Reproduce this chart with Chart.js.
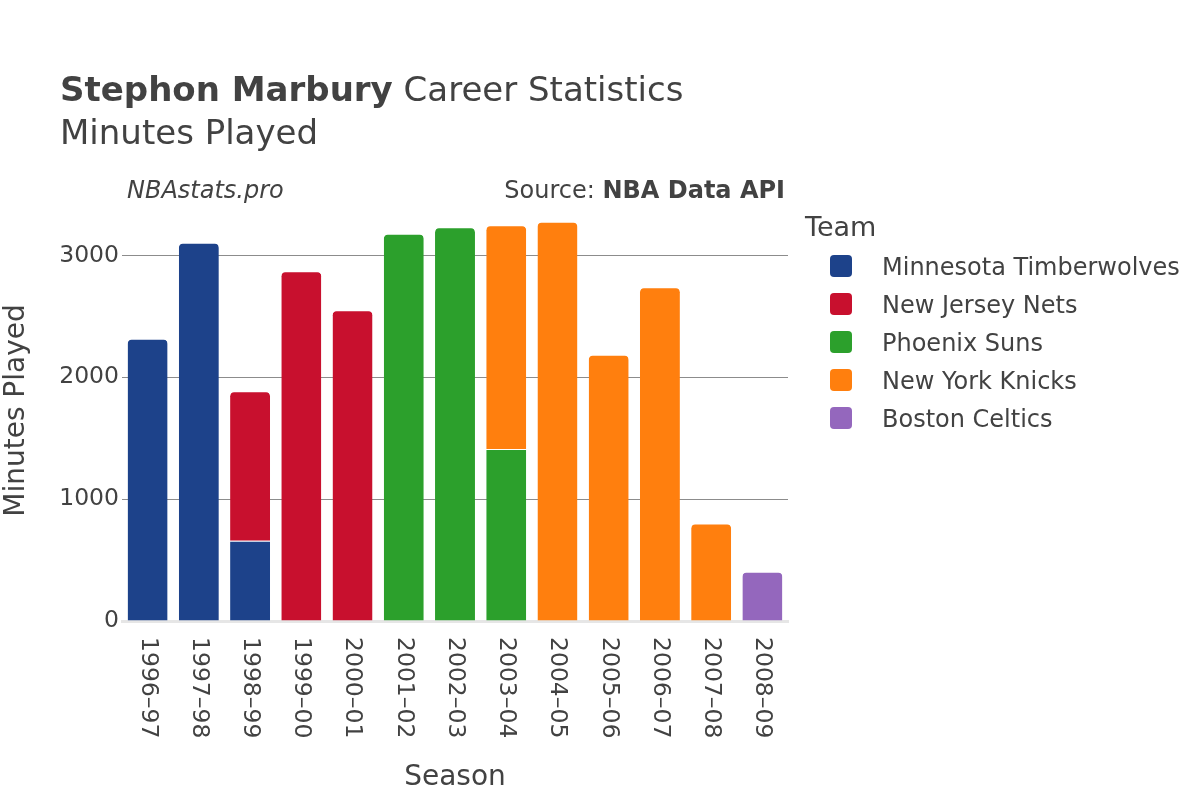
<!DOCTYPE html>
<html>
<head>
<meta charset="utf-8">
<script src="https://cdn.jsdelivr.net/npm/chart.js@4/dist/chart.umd.min.js"></script>
<style>
  html, body { margin: 0; padding: 0; background: #fff; }
  #wrap { width: 1200px; height: 800px; position: relative; }
</style>
</head>
<body>
<div id="wrap"><canvas id="c" width="1200" height="800"></canvas></div>
<script>
// ---- data ----
const seasons = ['1996–97','1997–98','1998–99','1999–00','2000–01','2001–02','2002–03','2003–04','2004–05','2005–06','2006–07','2007–08','2008–09'];
const minnesota = [2316, 3105, 658, null, null, null, null, null, null, null, null, null, null];
const newJersey = [null, null, 1228, 2871, 2550, null, null, null, null, null, null, null, null];
const phoenix   = [null, null, null, null, null, 3178, 3232, 1411, null, null, null, null, null];
const newYork   = [null, null, null, null, null, null, null, 1837, 3276, 2184, 2739, 801, null];
const boston    = [null, null, null, null, null, null, null, null, null, null, null, null, 405];
const teamNames = ['Minnesota Timberwolves','New Jersey Nets','Phoenix Suns','New York Knicks','Boston Celtics'];
const teamColors = ['#1d428a','#c8102e','#2ca02c','#ff7f0e','#9467bd'];
const yTicks = [0, 1000, 2000, 3000];
const yMax = 3455;

const FONT = '"DejaVu Sans", sans-serif';
const TXT = '#424242';

const series = [minnesota, newJersey, phoenix, newYork, boston];
const datasets = series.map((d, i) => ({
  label: teamNames[i],
  data: d,
  backgroundColor: teamColors[i],
  borderColor: '#ffffff',
  borderWidth: {top: 1, left: 0, right: 0, bottom: 0},
  borderSkipped: 'start',
  borderRadius: 5,
  barPercentage: 0.78,
  categoryPercentage: 1.0
}));

const decorPlugin = {
  id: 'decor',
  afterDraw(chart) {
    const ctx = chart.ctx;
    ctx.save();
    ctx.fillStyle = TXT;
    ctx.textBaseline = 'alphabetic';
    ctx.textAlign = 'left';
    // Title
    ctx.font = 'bold 34px ' + FONT;
    const t1 = 'Stephon Marbury';
    ctx.fillText(t1, 60, 101);
    const w1 = ctx.measureText(t1).width;
    ctx.font = '34px ' + FONT;
    ctx.fillText(' Career Statistics', 60 + w1, 101);
    ctx.fillText('Minutes Played', 60, 144);
    // Annotations
    ctx.font = 'italic 24px ' + FONT;
    ctx.fillText('NBAstats.pro', 127, 198);
    ctx.font = 'bold 24px ' + FONT;
    const bPart = 'NBA Data API';
    const bw = ctx.measureText(bPart).width;
    ctx.textAlign = 'right';
    ctx.fillText(bPart, 785, 198);
    ctx.font = '24px ' + FONT;
    ctx.fillText('Source: ', 785 - bw, 198);
    // X tick labels (rotated clockwise)
    const xs = chart.scales.x;
    ctx.font = '23.5px ' + FONT;
    ctx.textAlign = 'left';
    ctx.textBaseline = 'middle';
    seasons.forEach((s, i) => {
      const x = xs.getPixelForValue(i);
      ctx.save();
      ctx.translate(x, 637);
      ctx.rotate(Math.PI / 2);
      ctx.fillText(s, 0, 0);
      ctx.restore();
    });
    // Legend
    ctx.textAlign = 'left';
    ctx.textBaseline = 'alphabetic';
    ctx.font = '27px ' + FONT;
    ctx.fillText('Team', 805, 236);
    ctx.font = '24px ' + FONT;
    chart.data.datasets.forEach((ds, i) => {
      const cy = 266 + i * 38;
      ctx.fillStyle = ds.backgroundColor;
      ctx.beginPath();
      if (ctx.roundRect) ctx.roundRect(830, cy - 11, 22, 22, 4); else ctx.rect(830, cy - 11, 22, 22);
      ctx.fill();
      ctx.fillStyle = TXT;
      ctx.fillText(ds.label, 882, cy + 9);
    });
    ctx.restore();
  }
};

new Chart(document.getElementById('c'), {
  type: 'bar',
  data: { labels: seasons, datasets },
  options: {
    responsive: false,
    animation: false,
    events: [],
    layout: { padding: { left: 0, top: 200, right: 412, bottom: 0 } },
    plugins: { legend: { display: false }, tooltip: { enabled: false }, title: { display: false } },
    scales: {
      x: {
        stacked: true,
        grid: { display: false, drawTicks: false },
        border: { display: true, color: '#e6e6e6', width: 3 },
        ticks: { display: false },
        title: { display: true, text: 'Season', color: TXT, font: { family: FONT, size: 28 }, padding: { top: 0, bottom: 5 } },
        afterFit(scale) { scale.height = 179; }
      },
      y: {
        stacked: true,
        min: 0,
        max: yMax,
        afterBuildTicks(scale) { scale.ticks = yTicks.map(v => ({ value: v })); },
        grid: {
          drawTicks: false,
          color: ctx => (ctx.tick && ctx.tick.value === 0) ? 'rgba(0,0,0,0)' : '#8c8c8c',
          lineWidth: 1
        },
        border: { display: false },
        ticks: { color: TXT, font: { family: FONT, size: 23.5 }, padding: 3, callback: v => String(v) },
        title: { display: true, text: 'Minutes Played', color: TXT, font: { family: FONT, size: 28 }, padding: { top: 0, bottom: 0 } },
        afterFit(scale) { scale.width = 122; }
      }
    }
  },
  plugins: [decorPlugin]
});
</script>
</body>
</html>
